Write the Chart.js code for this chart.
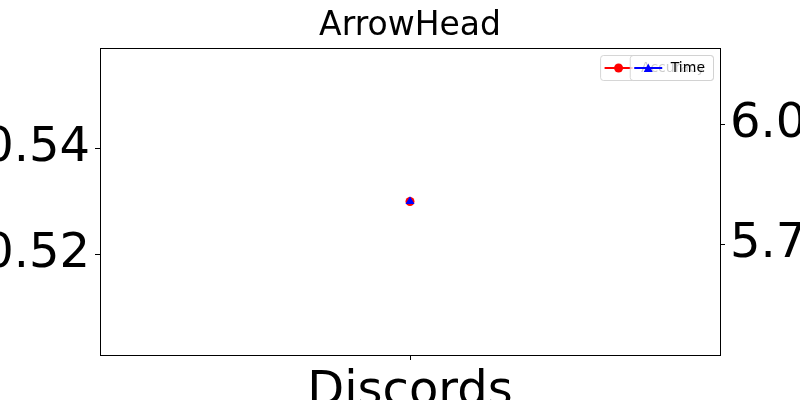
<!DOCTYPE html>
<html>
<head>
<meta charset="utf-8">
<script src="https://cdn.jsdelivr.net/npm/chart.js@4.4.1/dist/chart.umd.min.js"></script>
<style>
  html, body { margin: 0; padding: 0; background: #fff; }
  #wrap { width: 800px; height: 400px; }
</style>
</head>
<body>
<div id="wrap"><canvas id="chart"></canvas></div>
<script>
// Dados do gráfico
const categorias = ['Discords'];
const accuracyValores = [0.53];
const timeValores = [5.84];
const ticksEsquerda = [0.52, 0.54];
const ticksDireita = [5.75, 6.00];
const limitesEsquerda = [0.50085, 0.55915];
const limitesDireita = [5.519, 6.161];

const fonte = 'DejaVu Sans';

// Moldura e legendas sobrepostas (como no matplotlib com twinx)
const molduraPlugin = {
    id: 'moldura',
    afterDraw(chart) {
        const ctx = chart.ctx;
        const a = chart.chartArea;
        ctx.save();
        ctx.strokeStyle = '#000';
        ctx.lineWidth = 1;
        ctx.strokeRect(Math.round(a.left) + 0.5, Math.round(a.top) + 0.5,
            Math.round(a.right - a.left), Math.round(a.bottom - a.top));

        ctx.font = '14px "' + fonte + '"';
        ctx.textBaseline = 'middle';
        const legendas = [
            { texto: 'Accuracy', cor: '#ff0000', marcador: 'circle' },
            { texto: 'Time', cor: '#0000ff', marcador: 'triangle' }
        ];
        legendas.forEach(function(l) {
            const w = ctx.measureText(l.texto).width + 49;
            const h = 25;
            const x = a.right - 7 - w;
            const y = a.top + 7;
            ctx.fillStyle = 'rgba(255,255,255,0.8)';
            ctx.strokeStyle = 'rgba(204,204,204,0.8)';
            ctx.lineWidth = 1;
            ctx.beginPath();
            ctx.roundRect(x + 0.5, y + 0.5, w, h, 3);
            ctx.fill();
            ctx.stroke();
            const cy = y + h / 2 + 0.5;
            ctx.strokeStyle = l.cor;
            ctx.lineWidth = 2;
            ctx.beginPath();
            ctx.moveTo(x + 4.5, cy);
            ctx.lineTo(x + 32.5, cy);
            ctx.stroke();
            ctx.fillStyle = l.cor;
            ctx.beginPath();
            const mx = x + 18.5;
            if (l.marcador === 'circle') {
                ctx.arc(mx, cy, 4.5, 0, Math.PI * 2);
            } else {
                ctx.moveTo(mx, cy - 4.5);
                ctx.lineTo(mx + 4.5, cy + 4);
                ctx.lineTo(mx - 4.5, cy + 4);
                ctx.closePath();
            }
            ctx.fill();
            ctx.fillStyle = '#000';
            ctx.fillText(l.texto, x + 41, cy);
        });
        ctx.restore();
    }
};

function eixoY(posicao, limites, ticks, largura) {
    return {
        type: 'linear',
        position: posicao,
        min: limites[0],
        max: limites[1],
        border: { display: false },
        grid: { display: true, drawOnChartArea: false, tickLength: 5, color: '#000', tickColor: '#000' },
        ticks: {
            color: '#000',
            padding: 5,
            font: { family: fonte, size: 48 },
            callback: function(v) { return v.toFixed(2); }
        },
        afterBuildTicks: function(scale) {
            scale.ticks = ticks.map(function(v) { return { value: v }; });
        },
        afterFit: function(scale) {
            scale.width = largura;
        }
    };
}

const ctx = document.getElementById('chart').getContext('2d');
new Chart(ctx, {
    type: 'line',
    data: {
        labels: categorias,
        datasets: [
            {
                label: 'Accuracy',
                data: accuracyValores,
                yAxisID: 'y',
                borderColor: '#ff0000',
                backgroundColor: '#ff0000',
                borderWidth: 2,
                pointStyle: 'circle',
                pointRadius: 4.5,
                pointBorderWidth: 0,
                order: 2
            },
            {
                label: 'Time',
                data: timeValores,
                yAxisID: 'y1',
                borderColor: '#0000ff',
                backgroundColor: '#0000ff',
                borderWidth: 2,
                pointStyle: 'triangle',
                pointRadius: 5.2,
                pointBorderWidth: 0,
                order: 1
            }
        ]
    },
    options: {
        responsive: true,
        maintainAspectRatio: false,
        animation: false,
        layout: { padding: 0 },
        plugins: {
            legend: { display: false },
            tooltip: { enabled: false },
            title: {
                display: true,
                fullSize: false,
                text: 'ArrowHead',
                color: '#000',
                font: { family: fonte, size: 33, weight: 'normal' },
                padding: { top: 7, bottom: 1.4 }
            }
        },
        scales: {
            x: {
                type: 'category',
                offset: true,
                border: { display: false },
                grid: { display: true, drawOnChartArea: false, tickLength: 5, color: '#000', tickColor: '#000' },
                ticks: { color: '#000', padding: 4, font: { family: fonte, size: 48 } },
                afterFit: function(scale) { scale.height = 45; }
            },
            y: eixoY('left', limitesEsquerda, ticksEsquerda, 100),
            y1: eixoY('right', limitesDireita, ticksDireita, 80)
        }
    },
    plugins: [molduraPlugin]
});
</script>
</body>
</html>
